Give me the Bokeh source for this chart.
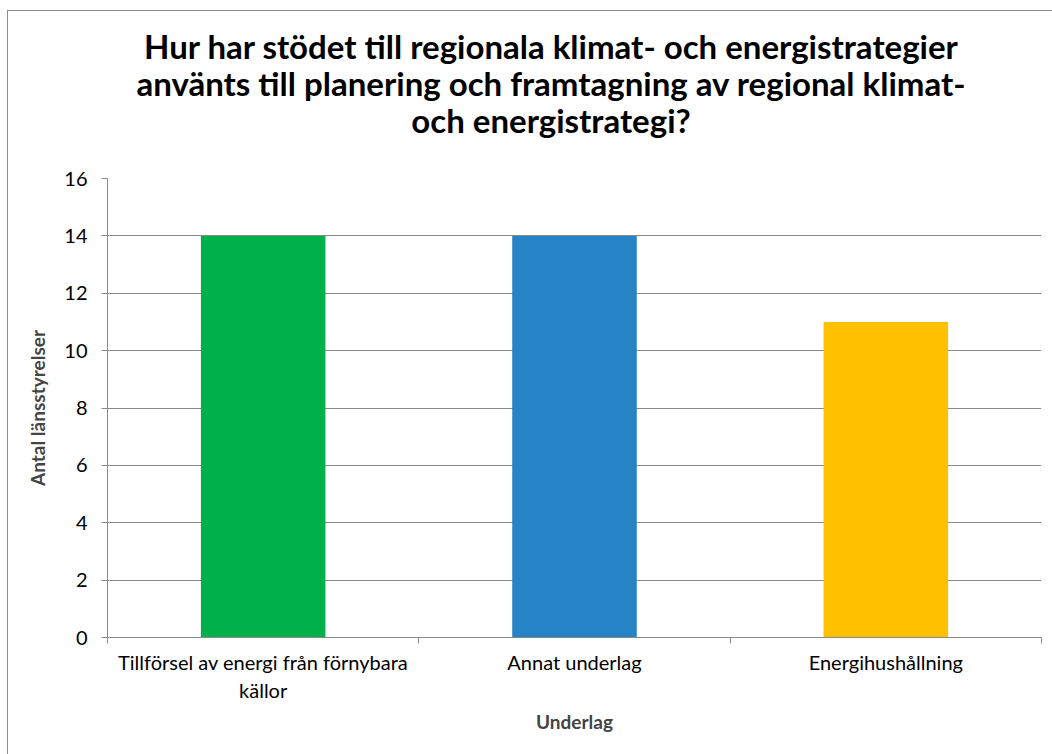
import numpy as np
from bokeh.plotting import figure
from bokeh.layouts import column
from bokeh.models import Range1d, FixedTicker, Div, ColumnDataSource
from bokeh.embed import file_html
from bokeh.resources import INLINE

# ---- data ----
categories = ["Tillförsel av energi från förnybara\nkällor", "Annat underlag", "Energihushållning"]
values = [14, 14, 11]
colors = ["#00B04A", "#2583C6", "#FFC000"]
y_ticks = [0, 2, 4, 6, 8, 10, 12, 14, 16]
title_lines = ["Hur har stödet till regionala klimat- och energistrategier",
               "använts till planering och framtagning av regional klimat-",
               "och energistrategi?"]
y_label = "Antal länsstyrelser"
x_label = "Underlag"

FONT = "Lato"
GRID = "#898989"

idx = np.arange(len(categories))
centers = idx + 0.5
src = ColumnDataSource(dict(x=centers, top=values, color=colors))

title_div = Div(
    text="<div style='width:1044px;box-sizing:border-box;padding-left:42px;text-align:center;"
         "font-family:Lato;font-weight:bold;font-size:33px;line-height:37px;color:black;"
         "padding-top:17px;'>" + "<br>".join(title_lines) + "</div>",
    width=1044, height=155, margin=0)

p = figure(width=1044, height=588, output_backend="svg", toolbar_location=None,
           x_range=Range1d(0, len(categories)), y_range=Range1d(0, 16),
           min_border_left=99, min_border_right=11, min_border_top=12, min_border_bottom=117,
           margin=0)
p.title = None
p.outline_line_color = None
p.background_fill_color = "white"
p.border_fill_color = "white"

p.vbar(x="x", top="top", width=0.4, bottom=0, color="color", line_color=None, source=src)

# axes
xa = p.xaxis[0]
xa.ticker = FixedTicker(ticks=list(centers), minor_ticks=list(np.arange(len(categories) + 1)))
xa.major_label_overrides = {float(c): lab for c, lab in zip(centers, categories)}
xa.major_tick_out = 0
xa.major_tick_in = 0
xa.minor_tick_out = 6
xa.minor_tick_in = 0
xa.minor_tick_line_color = GRID
xa.axis_line_color = GRID
xa.major_label_text_font = FONT
xa.major_label_text_font_size = "20px"
xa.major_label_text_color = "black"
xa.major_label_standoff = 6
xa.axis_label = x_label
xa.axis_label_text_font = FONT
xa.axis_label_text_font_size = "19px"
xa.axis_label_text_font_style = "bold"
xa.axis_label_standoff = 5

ya = p.yaxis[0]
ya.ticker = FixedTicker(ticks=y_ticks, minor_ticks=[])
ya.major_tick_out = 6
ya.major_tick_in = 0
ya.major_tick_line_color = GRID
ya.axis_line_color = GRID
ya.major_label_text_font = FONT
ya.major_label_text_font_size = "20px"
ya.major_label_text_color = "black"
ya.major_label_standoff = 14
ya.axis_label = y_label
ya.axis_label_text_font = FONT
ya.axis_label_text_font_size = "19px"
ya.axis_label_text_font_style = "bold"
ya.axis_label_standoff = 12

p.xgrid.grid_line_color = None
p.ygrid.grid_line_color = GRID
p.ygrid.ticker = FixedTicker(ticks=y_ticks)

layout = column(title_div, p, spacing=0,
                styles={"margin-left": "7px", "margin-top": "10px", "background": "white",
                        "border-left": "1px solid #8c8c8c", "border-top": "1px solid #8c8c8c"})

open("out.html", "w").write(file_html(layout, INLINE))
